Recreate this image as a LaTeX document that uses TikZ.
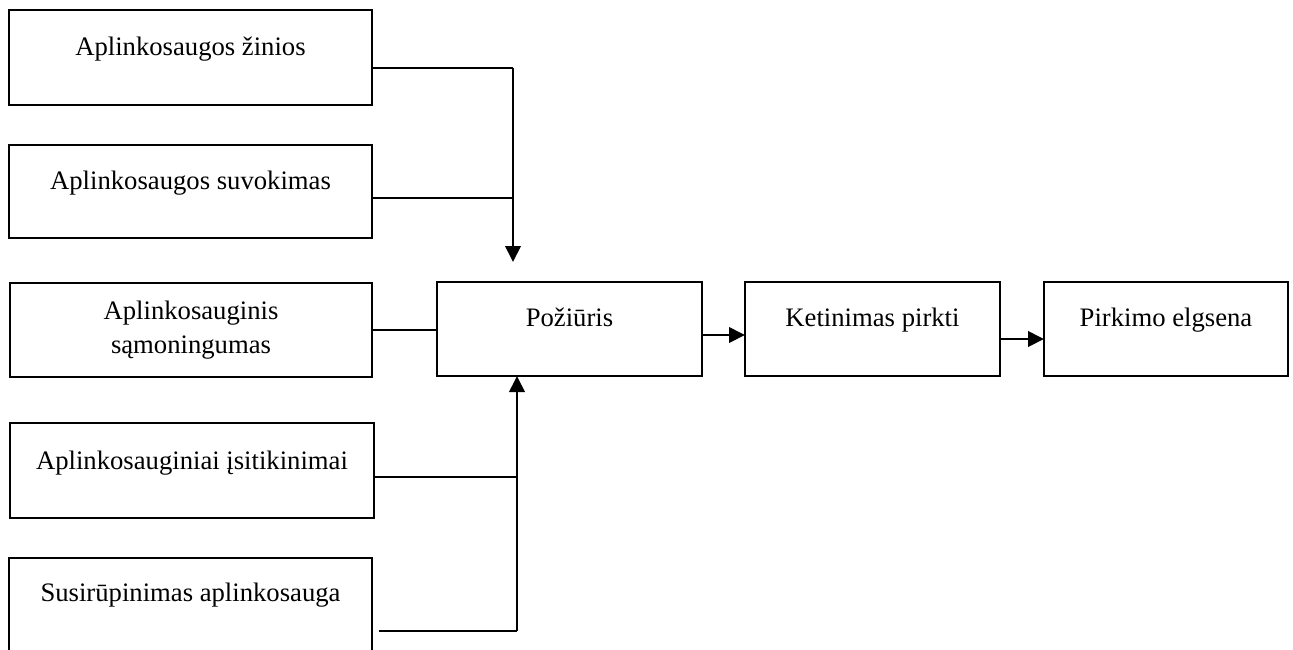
\documentclass[tikz,border=0pt]{standalone}
\usepackage{fontspec}
\setmainfont{Liberation Serif}
\usetikzlibrary{arrows.meta}

\begin{document}
\begin{tikzpicture}[x=0.75pt, y=-0.75pt,
  box/.style={draw, line width=1.9pt, inner sep=0pt, outer sep=0pt},
  lbl/.style={inner sep=0pt, anchor=base, font=\fontsize{20}{25.5}\selectfont},
  link/.style={line width=1pt},
  flow/.style={line width=2pt, -{Triangle[length=12pt, width=11.5pt]}}]
\useasboundingbox (0,0) rectangle (1293,650);

% left column of factors
\node[box, minimum width=272.25pt, minimum height=71.25pt] (b1) at (190.5,57.5) {};
\node[box, minimum width=272.25pt, minimum height=69.75pt] (b2) at (190.5,191.5) {};
\node[box, minimum width=271.5pt,  minimum height=70.5pt]  (b3) at (191,330) {};
\node[box, minimum width=273pt,    minimum height=71.25pt] (b4) at (192,470.5) {};
\node[box, minimum width=272.25pt, minimum height=84pt]    (b5) at (190.5,614) {};

% main chain
\node[box, minimum width=198.75pt, minimum height=70.5pt] (poz) at (569.5,329) {};
\node[box, minimum width=191.25pt, minimum height=70.5pt] (ket) at (872.5,329) {};
\node[box, minimum width=183pt,    minimum height=70.5pt] (pir) at (1166,329) {};

% labels
\node[lbl] (t1) at (190.5,55) {Aplinkosaugos žinios};
\node[lbl] (t2) at (190.5,189) {Aplinkosaugos suvokimas};
\node[inner sep=0pt, align=center, font=\fontsize{20}{25.5}\selectfont] (t3) at (191,330) {Aplinkosauginis\\sąmoningumas};
\node[lbl] (t4) at (192,469) {Aplinkosauginiai įsitikinimai};
\node[lbl] (t5) at (190.5,601) {Susirūpinimas aplinkosauga};
\node[lbl] (t6) at (569.5,326) {Požiūris};
\node[lbl] (t7) at (872.5,326) {Ketinimas pirkti};
\node[lbl] (t8) at (1166,326) {Pirkimo elgsena};

% junction points of the collecting lines
\coordinate (j1) at (513,68);
\coordinate (j2) at (513,198);
\coordinate (down) at (513,262);
\coordinate (j4) at (517,477);
\coordinate (j5) at (517,631);
\coordinate (s5) at (379,631);
\coordinate (a1) at (0,335);
\coordinate (a2) at (0,339);

% upper group feeding down
\draw[link] (b1.east |- j1) -- (j1);
\draw[link] (b2.east |- j2) -- (j2);
\draw[flow] (j1) -- (down);

% middle factor
\draw[link] (b3.east) -- (poz.west |- b3.east);

% lower group feeding up
\draw[link] (b4.east |- j4) -- (j4);
\draw[link] (s5) -- (j5);
\draw[flow] (j5) -- (poz.south -| j5);

% chain arrows
\draw[flow] (poz.east |- a1) -- (ket.west |- a1);
\draw[flow] (ket.east |- a2) -- (pir.west |- a2);
\end{tikzpicture}
\end{document}
